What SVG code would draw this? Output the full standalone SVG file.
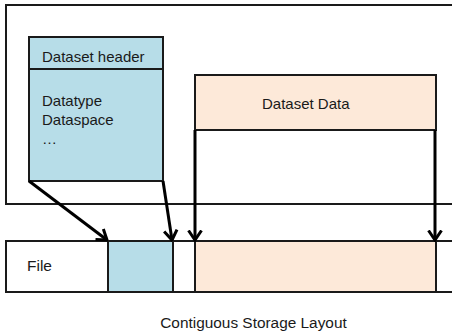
<svg xmlns="http://www.w3.org/2000/svg" width="452" height="331" viewBox="0 0 452 331">
<style>
  text { font-family: "Liberation Sans", Arial, sans-serif; font-size: 15px; fill: #1a1a1a; }
  .box { stroke: #1a1a1a; stroke-width: 2; }
  .conn { stroke: #000; stroke-width: 3; fill: none; marker-end: url(#arr); }
</style>
<defs>
  <marker id="arr" viewBox="0 0 12 16" refX="10.5" refY="8" markerWidth="12" markerHeight="16" orient="auto" markerUnits="userSpaceOnUse">
    <path d="M1,1.5 L10.5,8 L1,14.5" fill="none" stroke="#000" stroke-width="3"/>
  </marker>
</defs>
<rect width="452" height="331" fill="#fff"/>
<g id="memory">
  <rect class="box" x="6" y="5" width="470" height="199" fill="#fff"/>
</g>
<g id="dataset-header">
  <rect class="box" x="29" y="37" width="134" height="144" fill="#b7dde8"/>
  <line class="box" x1="29" y1="69" x2="163" y2="69"/>
  <text x="42" y="62">Dataset header</text>
  <text x="42" y="106">Datatype</text>
  <text x="42" y="125">Dataspace</text>
  <text x="42" y="144">…</text>
</g>
<g id="dataset-data">
  <rect class="box" x="195" y="75" width="241" height="55" fill="#fde9d9"/>
  <text x="262" y="109">Dataset Data</text>
</g>
<g id="file">
  <rect class="box" x="6" y="241" width="470" height="51" fill="#fff"/>
  <text x="27" y="271" style="font-size:15.5px">File</text>
</g>
<g id="file-header">
  <rect class="box" x="108" y="241" width="65" height="51" fill="#b7dde8"/>
</g>
<g id="file-data">
  <rect class="box" x="195" y="241" width="241" height="51" fill="#fde9d9"/>
</g>
<g id="connectors">
  <line class="conn" x1="29" y1="181" x2="107" y2="240"/>
  <line class="conn" x1="163" y1="181" x2="172" y2="240"/>
  <line class="conn" x1="195" y1="130" x2="195" y2="240"/>
  <line class="conn" x1="435" y1="130" x2="435" y2="240"/>
</g>
<text x="253.5" y="328" text-anchor="middle" style="font-size:15.4px">Contiguous Storage Layout</text>
</svg>
